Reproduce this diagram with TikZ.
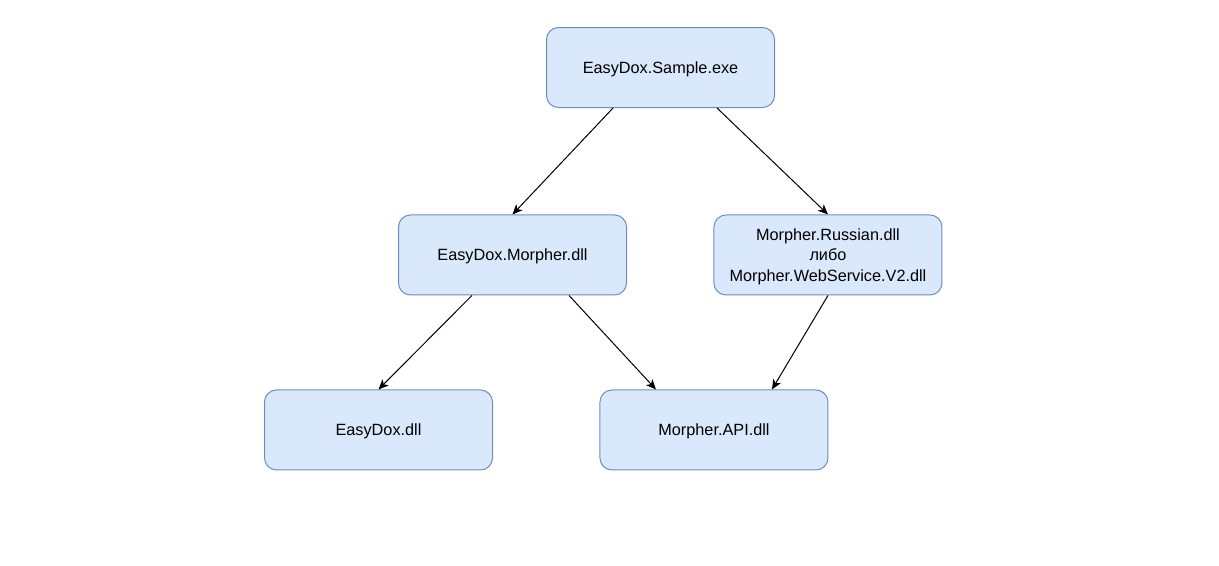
\documentclass[tikz,border=0pt]{standalone}
\usepackage{fontspec}
\setmainfont{Liberation Sans}
\usetikzlibrary{positioning,arrows.meta}
\definecolor{boxfill}{HTML}{DAE8FC}
\definecolor{boxline}{HTML}{6C8EBF}
\begin{document}
\begin{tikzpicture}[x=0.75pt, y=-0.75pt, on grid, line width=0.75pt,
    main/.style = {draw=boxline, fill=boxfill, rounded corners=9pt, minimum width=171pt, minimum height=60pt, align=center, text depth=-3pt, font=\fontsize{12.2pt}{15.2pt}\selectfont},
    dep/.style = {-{Stealth[length=7.5pt, width=6.5pt, inset=2pt]}}]
      \useasboundingbox (0,0) rectangle (1219,565);
      \node[main] (sample) at (660.5,67.5) {EasyDox.Sample.exe};
      \node[main] (morpher) [below left=140.6pt and 111pt of sample] {EasyDox.Morpher.dll};
      \node[main] (russian) [below right=140.6pt and 125.6pt of sample] {Morpher.Russian.dll\\либо\\Morpher.WebService.V2.dll};
      \node[main] (easydox) [below left=131.25pt and 100.5pt of morpher] {EasyDox.dll};
      \node[main] (api) [below right=131.25pt and 151.1pt of morpher] {Morpher.API.dll};
      \draw[dep] ([xshift=-35.6pt]sample.south) -- (morpher.north);
      \draw[dep] ([xshift=42.4pt]sample.south) -- (russian.north);
      \draw[dep] ([xshift=-30.4pt]morpher.south) -- (easydox.north);
      \draw[dep] ([xshift=42.4pt]morpher.south) -- ([xshift=-43.5pt]api.north);
      \draw[dep] (russian.south) -- ([xshift=43.5pt]api.north);
    \end{tikzpicture}
\end{document}
